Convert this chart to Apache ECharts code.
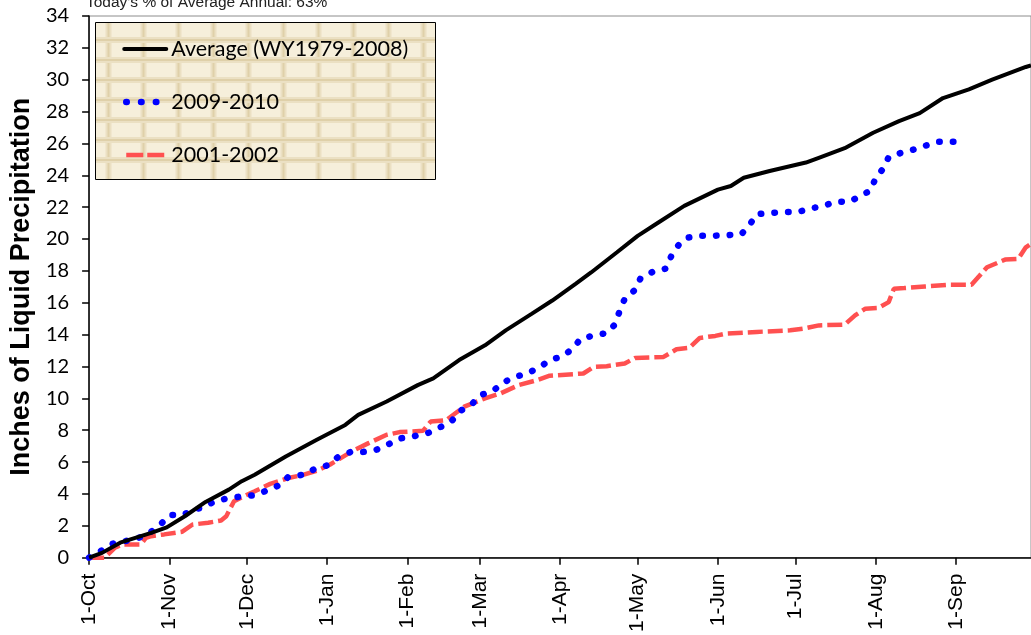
<!DOCTYPE html>
<html>
<head>
<meta charset="utf-8">
<title>Liquid Precipitation</title>
<script src="https://cdn.jsdelivr.net/npm/echarts@6/dist/echarts.min.js"></script>
<style>
  html, body { margin: 0; padding: 0; background: #fff; }
  #chart { width: 1031px; height: 635px; }
</style>
</head>
<body>
<div id="chart"></div>
<script>
'use strict';

// days counted from 1-Oct of the water year, values in inches
const avgDays = [0, 5, 12, 24, 30, 37, 45, 54, 59, 64, 76, 88, 99, 104, 115, 127, 133, 143, 153, 161, 171, 179, 188, 194, 204, 212, 220, 230, 243, 248, 253, 263, 277, 282, 292, 303, 313, 321, 330, 340, 349, 362, 364];
const avgVals = [0, 0.3, 0.94, 1.56, 1.9, 2.6, 3.5, 4.27, 4.8, 5.2, 6.35, 7.4, 8.33, 8.96, 9.8, 10.83, 11.25, 12.4, 13.33, 14.27, 15.3, 16.14, 17.19, 17.9, 19.17, 20.2, 21.04, 22.08, 23.1, 23.33, 23.85, 24.27, 24.8, 25.1, 25.7, 26.67, 27.4, 27.9, 28.85, 29.4, 30.0, 30.8, 30.9];

const wy2010Days = [0, 5, 9, 14, 19, 23, 27, 31, 36, 40, 45, 49, 54, 59, 64, 69, 74, 77, 83, 87, 92, 96, 101, 106, 111, 116, 120, 125, 131, 135, 140, 143, 148, 151, 156, 160, 164, 169, 174, 178, 183, 187, 190, 195, 200, 203, 205, 207, 211, 213, 218, 223, 225, 228, 231, 236, 242, 247, 252, 255, 258, 263, 268, 274, 278, 284, 288, 294, 298, 302, 304, 307, 309, 314, 319, 324, 328, 334, 339];
const wy2010Vals = [0, 0.46, 0.87, 1.04, 1.23, 1.52, 1.98, 2.67, 2.67, 2.96, 3.23, 3.58, 3.73, 3.85, 3.92, 4.23, 4.58, 5.08, 5.21, 5.56, 5.79, 6.29, 6.63, 6.64, 6.77, 7.14, 7.48, 7.6, 7.83, 8.13, 8.54, 9.17, 9.64, 10.19, 10.46, 10.98, 11.33, 11.54, 11.94, 12.39, 12.65, 13.13, 13.75, 13.94, 14.1, 14.6, 15.46, 16.25, 16.81, 17.5, 17.96, 18.15, 18.94, 19.67, 20.08, 20.21, 20.21, 20.25, 20.29, 20.83, 21.56, 21.63, 21.69, 21.69, 21.9, 22.08, 22.33, 22.35, 22.71, 23.04, 23.85, 24.44, 25.15, 25.42, 25.63, 25.9, 26.1, 26.1, 26.1];

const wy2002Days = [0, 6, 10, 13, 20, 22, 24, 29, 36, 40, 46, 51, 53, 56, 59, 64, 70, 77, 83, 88, 93, 99, 102, 108, 115, 120, 129, 132, 138, 145, 153, 159, 166, 173, 178, 187, 191, 195, 200, 207, 211, 222, 227, 232, 236, 242, 246, 258, 271, 276, 282, 292, 296, 300, 305, 309, 311, 315, 323, 333, 341, 347, 354, 359, 362, 364];
const wy2002Vals = [0, 0, 0.63, 0.83, 0.83, 1.25, 1.35, 1.46, 1.63, 2.08, 2.19, 2.33, 2.6, 3.54, 3.79, 4.17, 4.63, 5.0, 5.21, 5.46, 5.83, 6.42, 6.71, 7.19, 7.71, 7.88, 7.96, 8.54, 8.63, 9.48, 10.0, 10.31, 10.83, 11.14, 11.42, 11.52, 11.56, 11.98, 12.02, 12.19, 12.54, 12.6, 13.08, 13.17, 13.79, 13.92, 14.06, 14.17, 14.27, 14.38, 14.58, 14.63, 15.21, 15.63, 15.67, 16.04, 16.88, 16.92, 17.02, 17.13, 17.13, 18.23, 18.71, 18.75, 19.48, 19.7];

const seriesNames = ['Average (WY1979-2008)', '2009-2010', '2001-2002'];
const monthNames = ['Jan', 'Feb', 'Mar', 'Apr', 'May', 'Jun', 'Jul', 'Aug', 'Sep', 'Oct', 'Nov', 'Dec'];
const headerText = "Today's % of Average Annual: 63%";
const yTitle = 'Inches of Liquid Precipitation';

function toPairs(days, vals) {
    return days.map(function (d, i) {
        return [new Date(2009, 9, 1 + d), vals[i]];
    });
}

// line looks of the three series
const avgLine = { color: '#000', width: 4 };
const wy2010Line = { color: '#0000FF', width: 6.5, type: [0.5, 13.2], cap: 'round' };
const wy2002Line = { color: '#FF5050', width: 4.5, type: [15, 5], cap: 'butt' };

// parchment background of the legend box
let boxLeft = 95, boxTop = 22, boxW = 340, boxH = 157;
let boxChildren = [{
    type: 'rect',
    shape: { x: boxLeft, y: boxTop, width: boxW, height: boxH },
    style: { fill: '#F6EFDB' }
}];
for (let x = 108.5; x < boxLeft + boxW; x += 35) {
    boxChildren.push({ type: 'line', shape: { x1: x, y1: boxTop, x2: x, y2: boxTop + boxH }, style: { stroke: '#EBE0C3', lineWidth: 6 } });
    boxChildren.push({ type: 'line', shape: { x1: x, y1: boxTop, x2: x, y2: boxTop + boxH }, style: { stroke: '#DFD0A9', lineWidth: 2 } });
}
for (let y = 40; y < boxTop + boxH; y += 20) {
    boxChildren.push({ type: 'line', shape: { x1: boxLeft, y1: y, x2: boxLeft + boxW, y2: y }, style: { stroke: '#EBE0C3', lineWidth: 6 } });
    boxChildren.push({ type: 'line', shape: { x1: boxLeft, y1: y, x2: boxLeft + boxW, y2: y }, style: { stroke: '#DFD0A9', lineWidth: 2 } });
}
boxChildren.push({
    type: 'rect',
    shape: { x: boxLeft + 0.5, y: boxTop + 0.5, width: boxW, height: boxH },
    style: { fill: 'none', stroke: '#000', lineWidth: 1 }
});

let chart = echarts.init(document.getElementById('chart'));
let option = {
    animation: false,
    backgroundColor: '#fff',
    grid: {
        left: 88,
        top: 16,
        width: 948.6,
        height: 544,
        show: true,
        borderColor: '#8c8c8c',
        borderWidth: 1
    },
    graphic: [
        {
            type: 'group',
            z: 3,
            children: boxChildren
        },
        {
            type: 'text',
            x: 86,
            y: 3,
            z: 3,
            style: {
                text: headerText,
                font: '15.5px "Liberation Sans", Arial, sans-serif',
                fill: '#222',
                textVerticalAlign: 'middle'
            }
        }
    ],
    legend: {
        orient: 'vertical',
        left: 121,
        top: 36,
        padding: 0,
        z: 10,
        itemWidth: 42,
        itemHeight: 14,
        itemGap: 27,
        itemStyle: { opacity: 0 },
        textStyle: {
            fontFamily: 'Lato',
            fontSize: 21.5,
            lineHeight: 26,
            color: '#000'
        },
        data: [
            { name: seriesNames[0], lineStyle: { color: '#000', width: 4, cap: 'round' } },
            { name: seriesNames[1], lineStyle: { color: '#0000FF', width: 6.5, type: [0.5, 14.3], cap: 'round', dashOffset: -2 } },
            { name: seriesNames[2], lineStyle: { color: '#FF5050', width: 4.5, type: [17, 4], cap: 'butt' } }
        ]
    },
    xAxis: {
        type: 'time',
        min: new Date(2009, 9, 1),
        max: new Date(2010, 8, 30),
        splitNumber: 12,
        axisLine: { show: true, lineStyle: { color: '#000', width: 1.5 } },
        axisTick: { show: true, length: 7, lineStyle: { color: '#000', width: 1.5 } },
        splitLine: { show: false },
        axisLabel: {
            rotate: 90,
            margin: 16,
            fontFamily: '"Liberation Sans", Arial, sans-serif',
            fontSize: 21,
            color: '#000',
            formatter: function (value) {
                let d = new Date(value);
                return d.getDate() + '-' + monthNames[d.getMonth()];
            }
        }
    },
    yAxis: {
        type: 'value',
        min: 0,
        max: 34,
        interval: 2,
        name: yTitle,
        nameLocation: 'middle',
        nameGap: 46,
        nameTextStyle: {
            fontFamily: '"Liberation Sans", Arial, sans-serif',
            fontWeight: 'bold',
            fontSize: 27,
            color: '#000'
        },
        axisLine: { show: true, lineStyle: { color: '#000', width: 1.5 } },
        axisTick: { show: true, length: 7, lineStyle: { color: '#000', width: 1.5 } },
        splitLine: { show: false },
        axisLabel: {
            margin: 20,
            fontFamily: 'Lato',
            fontSize: 20,
            color: '#000'
        }
    },
    series: [
        {
            name: seriesNames[0],
            type: 'line',
            symbol: 'none',
            data: toPairs(avgDays, avgVals),
            color: '#000',
            lineStyle: avgLine,
            z: 4
        },
        {
            name: seriesNames[1],
            type: 'line',
            symbol: 'none',
            data: toPairs(wy2010Days, wy2010Vals),
            color: '#0000FF',
            lineStyle: wy2010Line,
            z: 3
        },
        {
            name: seriesNames[2],
            type: 'line',
            symbol: 'none',
            data: toPairs(wy2002Days, wy2002Vals),
            color: '#FF5050',
            lineStyle: wy2002Line,
            z: 2
        }
    ]
};
chart.setOption(option);
</script>
</body>
</html>
